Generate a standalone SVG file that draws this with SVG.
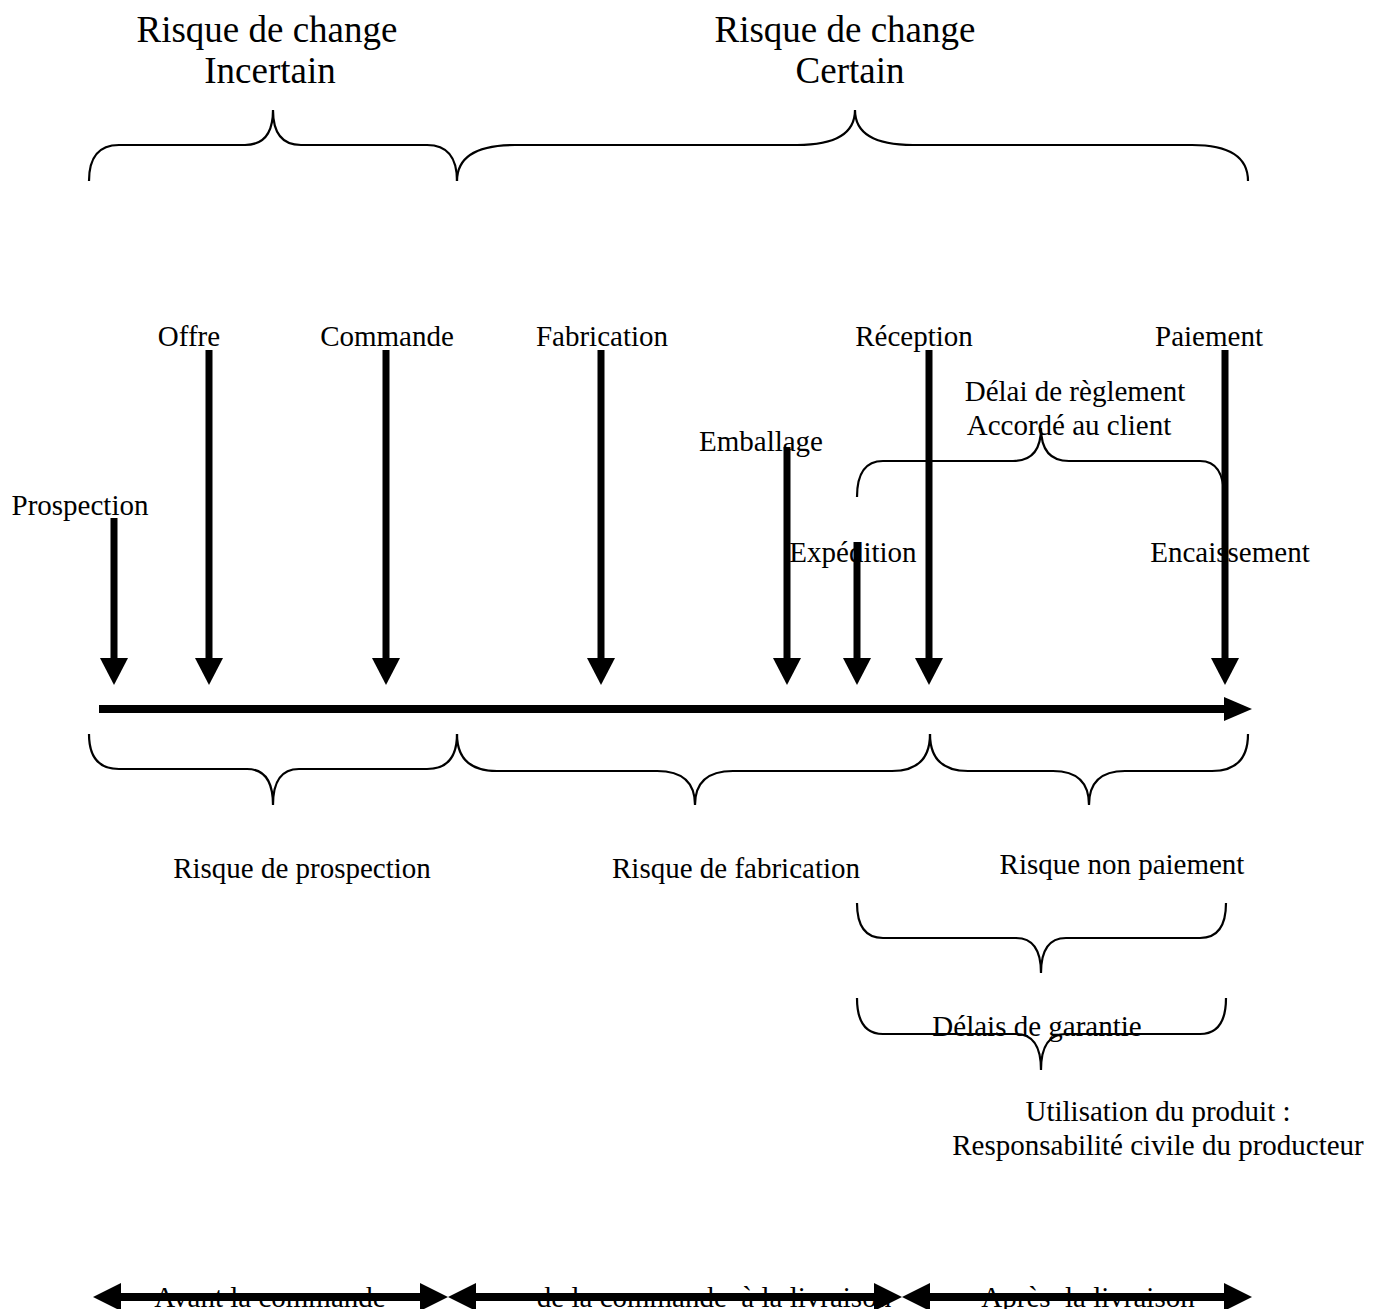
<svg xmlns="http://www.w3.org/2000/svg" width="1387" height="1309" viewBox="0 0 1387 1309">
<style>
text{font-family:"Liberation Serif","Times New Roman",serif;fill:#000}
.t{font-size:29px;text-anchor:middle}
.h{font-size:37px;text-anchor:middle}
.brace{fill:none;stroke:#000;stroke-width:2.2}
.shaft{stroke:#000;stroke-width:7;fill:none}
.axis{stroke:#000;stroke-width:8;fill:none}
.head{fill:#000}
</style>
<rect width="1387" height="1309" fill="#fff"/>
<g id="titles">
<text class="h" x="267" y="42">Risque de change</text>
<text class="h" x="270" y="83">Incertain</text>
<text class="h" x="845" y="42">Risque de change</text>
<text class="h" x="850" y="83">Certain</text>
</g>
<g id="top-braces">
<path class="brace" d="M89,181 Q89,145 119,145 L245,145 Q273,145 273,110 Q273,145 301,145 L427,145 Q457,145 457,181"/>
<path class="brace" d="M457,181 Q457,145 515,145 L797,145 Q855,145 855,110 Q855,145 913,145 L1192,145 Q1248,145 1248,181"/>
</g>
<g id="connectors">
<line class="axis" x1="99" y1="709" x2="1228" y2="709"/>
<polygon class="head" points="1224,697 1252,709 1224,721"/>
<g id="ev-prospection"><line class="shaft" x1="114" y1="518" x2="114" y2="662"/><polygon class="head" points="100,658 128,658 114,685"/></g>
<g id="ev-offre"><line class="shaft" x1="209" y1="350" x2="209" y2="662"/><polygon class="head" points="195,658 223,658 209,685"/></g>
<g id="ev-commande"><line class="shaft" x1="386" y1="350" x2="386" y2="662"/><polygon class="head" points="372,658 400,658 386,685"/></g>
<g id="ev-fabrication"><line class="shaft" x1="601" y1="350" x2="601" y2="662"/><polygon class="head" points="587,658 615,658 601,685"/></g>
<g id="ev-emballage"><line class="shaft" x1="787" y1="447" x2="787" y2="662"/><polygon class="head" points="773,658 801,658 787,685"/></g>
<g id="ev-expedition"><line class="shaft" x1="857" y1="542" x2="857" y2="662"/><polygon class="head" points="843,658 871,658 857,685"/></g>
<g id="ev-reception"><line class="shaft" x1="929" y1="350" x2="929" y2="662"/><polygon class="head" points="915,658 943,658 929,685"/></g>
<g id="ev-paiement"><line class="shaft" x1="1225" y1="350" x2="1225" y2="662"/><polygon class="head" points="1211,658 1239,658 1225,685"/></g>
</g>
<g id="event-labels">
<text class="t" x="189" y="346">Offre</text>
<text class="t" x="387" y="346">Commande</text>
<text class="t" x="602" y="346">Fabrication</text>
<text class="t" x="914" y="346">Réception</text>
<text class="t" x="1209" y="346">Paiement</text>
<text class="t" x="1075" y="401">Délai de règlement</text>
<text class="t" x="1069" y="435">Accordé au client</text>
<text class="t" x="761" y="451">Emballage</text>
<text class="t" x="80" y="515">Prospection</text>
<text class="t" x="853" y="562">Expédition</text>
<text class="t" x="1230" y="562">Encaissement</text>
</g>
<g id="delai-brace">
<path class="brace" d="M857,497 Q857,461 883,461 L1013,461 Q1041,461 1041,428 Q1041,461 1069,461 L1200,461 Q1224,461 1224,497"/>
</g>
<g id="lower-braces">
<path class="brace" d="M89,734 Q89,769 119,769 L247,769 Q273,769 273,805 Q273,769 299,769 L427,769 Q457,769 457,734"/>
<path class="brace" d="M457,734 Q457,771 497,771 L657,771 Q695,771 695,805 Q695,771 733,771 L892,771 Q930,771 930,734"/>
<path class="brace" d="M930,734 Q930,771 968,771 L1053,771 Q1089,771 1089,805 Q1089,771 1125,771 L1212,771 Q1248,771 1248,734"/>
</g>
<g id="risk-labels">
<text class="t" x="302" y="878">Risque de prospection</text>
<text class="t" x="736" y="878">Risque de fabrication</text>
<text class="t" x="1122" y="874">Risque non paiement</text>
</g>
<g id="payment-braces">
<path class="brace" d="M857,903 Q857,938 883,938 L1016,938 Q1041,938 1041,973 Q1041,938 1066,938 L1200,938 Q1226,938 1226,903"/>
<path class="brace" d="M857,998 Q857,1034 883,1034 L1016,1034 Q1041,1034 1041,1070 Q1041,1034 1066,1034 L1200,1034 Q1226,1034 1226,998"/>
<text class="t" x="1037" y="1036">Délais de garantie</text>
</g>
<g id="usage">
<text class="t" x="1158" y="1121">Utilisation du produit :</text>
<text class="t" x="1158" y="1155">Responsabilité civile du producteur</text>
</g>
<g id="phases">
<text class="t" x="270" y="1307">Avant la commande</text>
<text class="t" x="714" y="1307" xml:space="preserve">de la commande  à la livraison</text>
<text class="t" x="1088" y="1307" xml:space="preserve">Après  la livraison</text>
<line class="axis" x1="115" y1="1297" x2="428" y2="1297"/>
<polygon class="head" points="93,1297 121,1283 121,1311"/>
<polygon class="head" points="448,1297 420,1283 420,1311"/>
<line class="axis" x1="468" y1="1297" x2="882" y2="1297"/>
<polygon class="head" points="448,1297 476,1283 476,1311"/>
<polygon class="head" points="902,1297 874,1283 874,1311"/>
<line class="axis" x1="922" y1="1297" x2="1232" y2="1297"/>
<polygon class="head" points="902,1297 930,1283 930,1311"/>
<polygon class="head" points="1252,1297 1224,1283 1224,1311"/>
</g>
</svg>
